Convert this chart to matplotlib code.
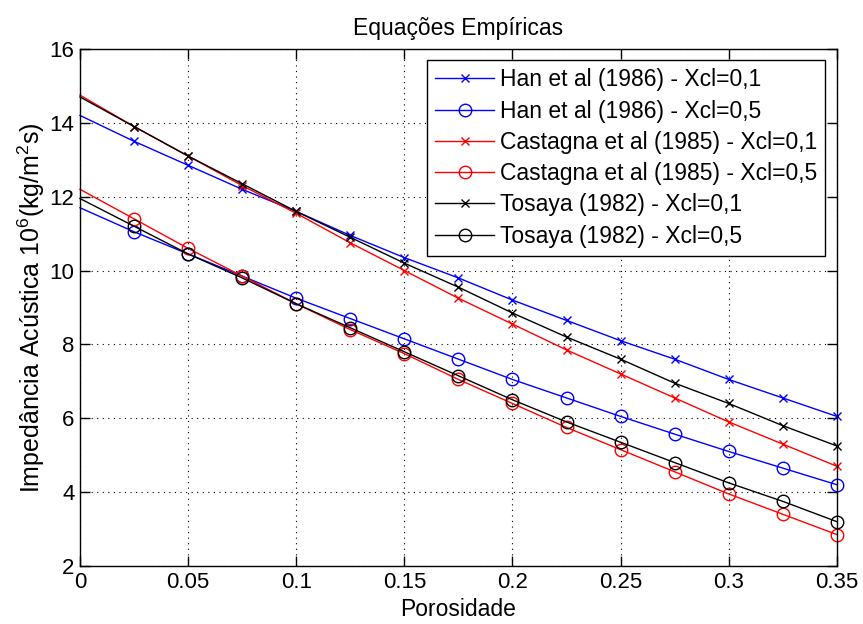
import matplotlib
matplotlib.use("Agg")
import matplotlib.pyplot as plt
import numpy as np

plt.rcParams['font.family'] = ['Liberation Sans', 'DejaVu Sans']
plt.rcParams['mathtext.fontset'] = 'custom'
plt.rcParams['mathtext.rm'] = 'Liberation Sans'
plt.rcParams['mathtext.it'] = 'Liberation Sans'

porosity = [0.0, 0.025, 0.05, 0.075, 0.1, 0.125, 0.15, 0.175, 0.2, 0.225, 0.25, 0.275, 0.3, 0.325, 0.35]

han_01 = [14.2, 13.5, 12.85, 12.2, 11.6, 10.95, 10.35, 9.8, 9.2, 8.65, 8.1, 7.6, 7.05, 6.55, 6.05]
han_05 = [11.7, 11.05, 10.45, 9.85, 9.25, 8.7, 8.15, 7.6, 7.05, 6.55, 6.05, 5.57, 5.1, 4.65, 4.2]
cast_01 = [14.75, 13.9, 13.1, 12.3, 11.55, 10.75, 10.0, 9.25, 8.55, 7.85, 7.2, 6.55, 5.9, 5.3, 4.7]
cast_05 = [12.2, 11.4, 10.6, 9.85, 9.1, 8.4, 7.75, 7.05, 6.4, 5.75, 5.15, 4.55, 3.95, 3.4, 2.85]
tos_01 = [14.7, 13.9, 13.1, 12.35, 11.6, 10.9, 10.2, 9.55, 8.85, 8.2, 7.6, 6.95, 6.4, 5.8, 5.25]
tos_05 = [11.95, 11.2, 10.45, 9.8, 9.1, 8.45, 7.8, 7.15, 6.5, 5.9, 5.35, 4.8, 4.25, 3.75, 3.2]

labels = ["Han et al (1986) - Xcl=0,1", "Han et al (1986) - Xcl=0,5",
          "Castagna et al (1985) - Xcl=0,1", "Castagna et al (1985) - Xcl=0,5",
          "Tosaya (1982) - Xcl=0,1", "Tosaya (1982) - Xcl=0,5"]
series = [han_01, han_05, cast_01, cast_05, tos_01, tos_05]
colors = ['#0000ff', '#0000ff', '#ff0000', '#ff0000', '#000000', '#000000']
markers = ['x', 'o', 'x', 'o', 'x', 'o']

fig = plt.figure(figsize=(8.63, 6.24), dpi=100)
ax = fig.add_axes([0.0927, 0.093, 0.877, 0.8285])

for y, c, m, lab in zip(series, colors, markers, labels):
    ms = 6 if m == 'x' else 9
    ax.plot(porosity, y, color=c, marker=m, markersize=ms, markevery=slice(1, None),
            markerfacecolor='none', markeredgecolor=c, markeredgewidth=1.0, lw=1.0,
            label=lab, clip_on=False)

ax.set_xlim(0, 0.35)
ax.set_ylim(2, 16)
ax.set_xticks([0, 0.05, 0.1, 0.15, 0.2, 0.25, 0.3, 0.35])
ax.set_xticklabels(['0', '0.05', '0.1', '0.15', '0.2', '0.25', '0.3', '0.35'])
ax.set_yticks([2, 4, 6, 8, 10, 12, 14, 16])
ax.grid(True, linestyle=(0, (1, 4)), color='black', linewidth=0.8)
ax.tick_params(direction='in', top=True, right=True, length=7, labelsize=16, width=1, pad=4)
for s in ax.spines.values():
    s.set_linewidth(1.0)

ax.set_xlabel('Porosidade', fontsize=16.5, labelpad=4)
ax.set_ylabel('Impedância Acústica 10$^{6}$(kg/m$^{2}$s)', fontsize=18, labelpad=2)
ax.set_title('Equações Empíricas', fontsize=16.5, pad=10)

leg = ax.legend(loc='upper right', fontsize=16.5, frameon=True, fancybox=False,
                edgecolor='black', framealpha=1, borderaxespad=0.5, handlelength=2.6,
                labelspacing=0.36, borderpad=0.35, handletextpad=0.25)
leg.get_frame().set_linewidth(1.0)

fig.savefig('out.png', dpi=100, facecolor='white')
